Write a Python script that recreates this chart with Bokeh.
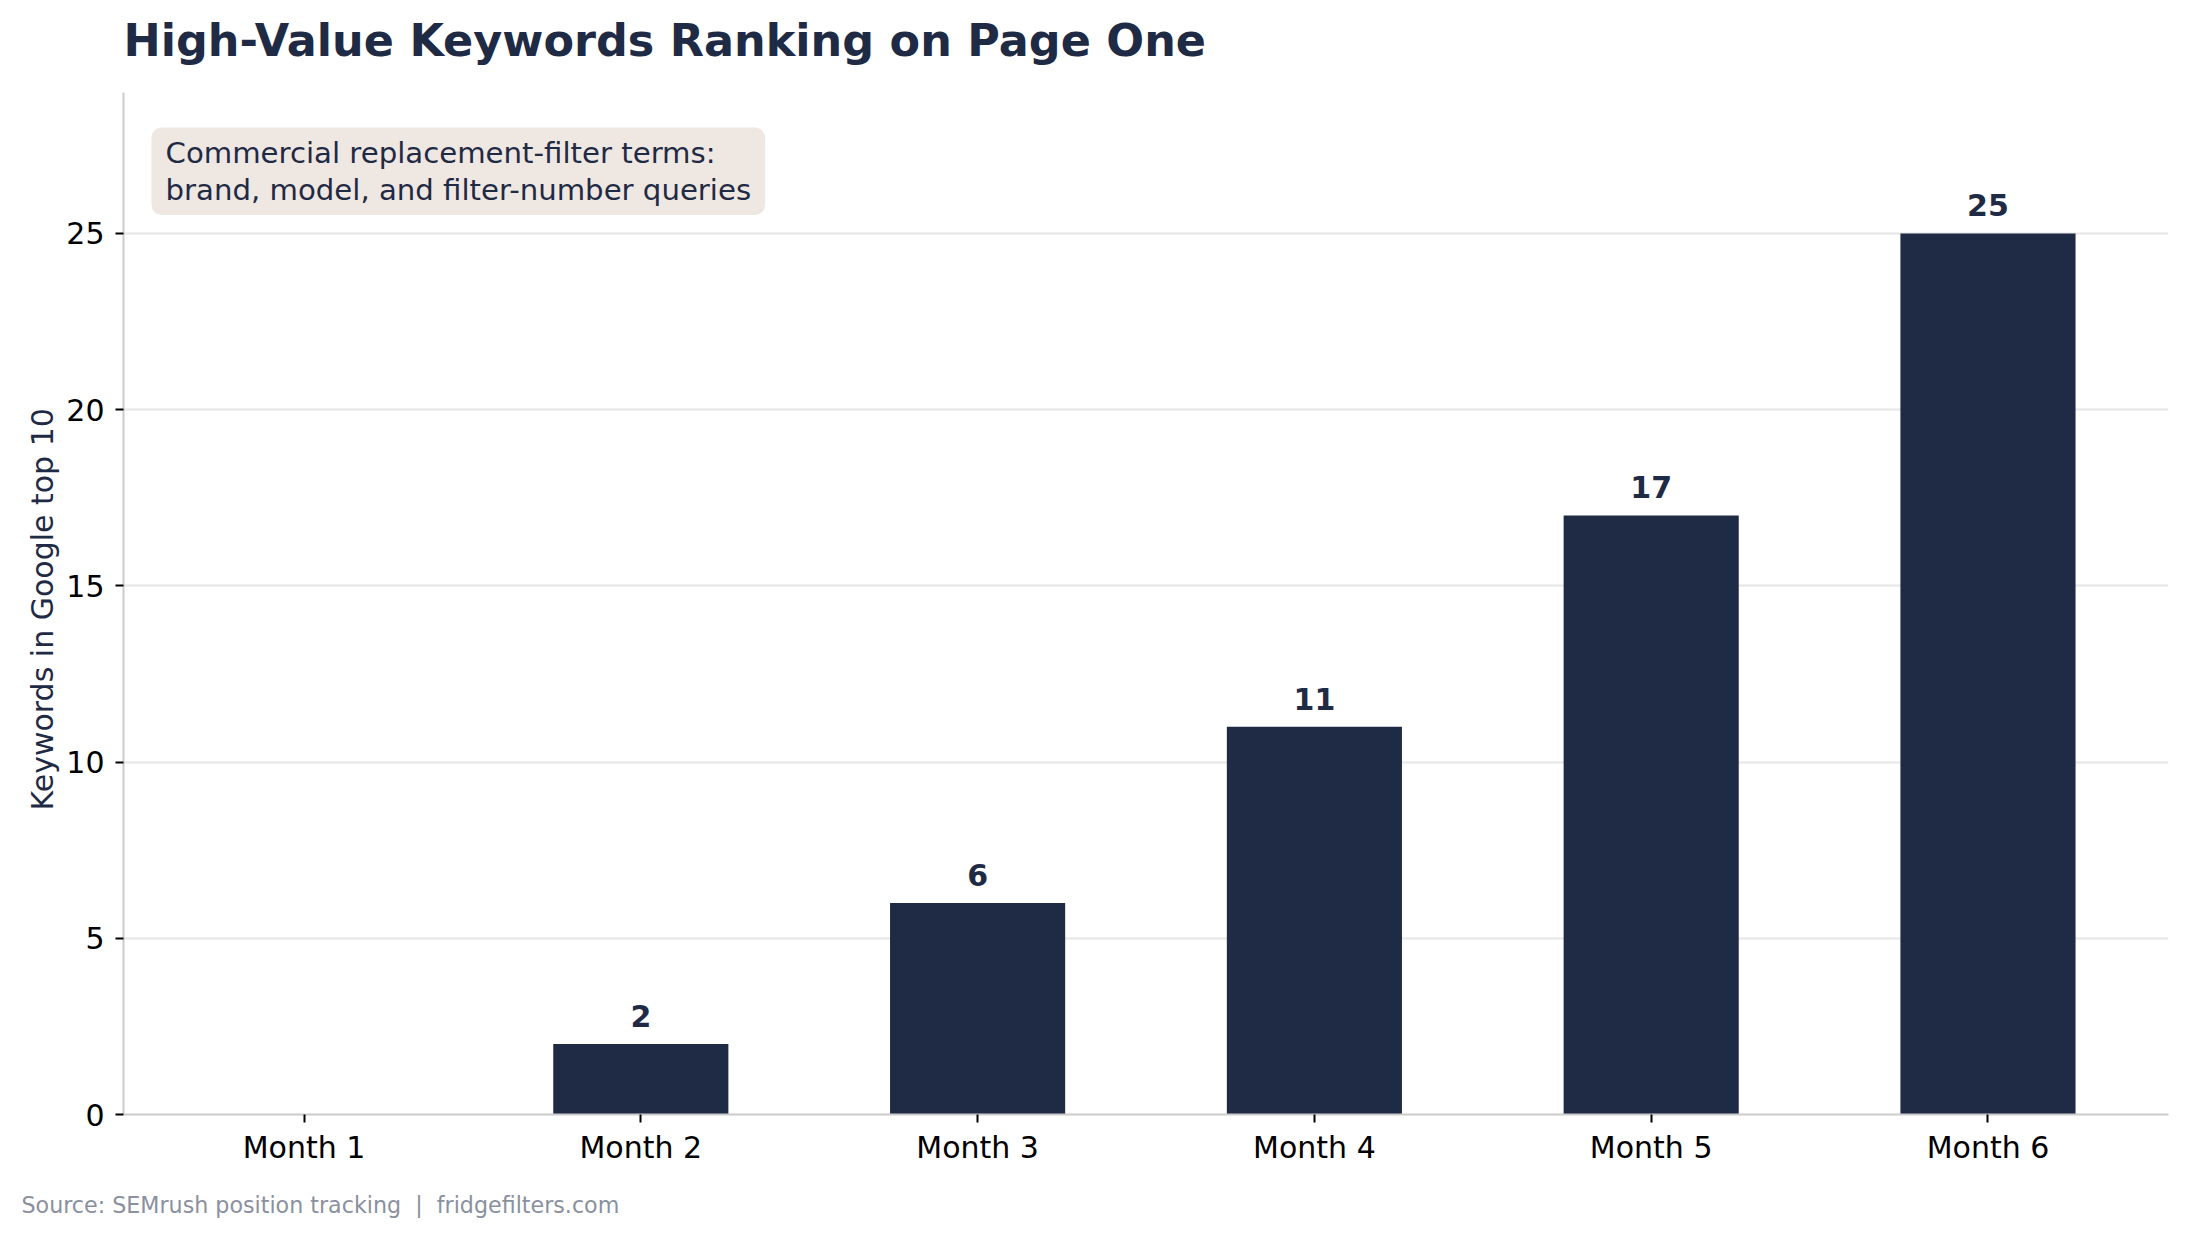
from bokeh.plotting import figure
from bokeh.models import Range1d, FixedTicker, Label, Title
from bokeh.embed import file_html
from bokeh.resources import INLINE
from bokeh.core.properties import value

# ---- data ----
months = ["Month 1", "Month 2", "Month 3", "Month 4", "Month 5", "Month 6"]
keywords = [0, 2, 6, 11, 17, 25]
y_ticks = [0, 5, 10, 15, 20, 25]
title_text = "High-Value Keywords Ranking on Page One"
y_label = "Keywords in Google top 10"
note_lines = ["Commercial replacement-filter terms:", "brand, model, and filter-number queries"]
source_text = "Source: SEMrush position tracking \u00a0|\u00a0 fridgefilters.com"

NAVY = "#1f2a44"
FONT = "DejaVu Sans"

xs = list(range(len(months)))
bar_w = 0.52
pad = 0.05 * (len(months) - 1 + bar_w)
y_top = max(keywords) * 1.16          # top of the visible axis

FW, FH = 2045, 1114                   # frame reaches the top of the canvas
AXIS_TOP_PX = 92                      # where the axis ends (pixels from the top)
y_end = y_top * FH / (FH - AXIS_TOP_PX)

p = figure(frame_width=FW, frame_height=FH,
           min_border_left=123, min_border_right=17, min_border_top=0, min_border_bottom=125,
           x_range=Range1d(-bar_w / 2 - pad, len(months) - 1 + bar_w / 2 + pad),
           y_range=Range1d(0, y_end),
           output_backend="svg", toolbar_location=None,
           background_fill_color="white", border_fill_color="white",
           outline_line_color=None)

p.vbar(x=xs, top=keywords, width=bar_w, bottom=0, fill_color=NAVY, line_color=None)

lx = [x for x, v in zip(xs, keywords) if v > 0]
ly = [v for v in keywords if v > 0]
lt = [str(v) for v in ly]
p.text(x=lx, y=ly, text=lt, y_offset=-28, text_align="center", text_baseline="alphabetic",
       text_font=value(FONT), text_font_style="bold", text_font_size="30px", text_color=NAVY)

# axes
p.xaxis.ticker = FixedTicker(ticks=xs)
p.xaxis.major_label_overrides = {i: m for i, m in enumerate(months)}
p.yaxis.ticker = FixedTicker(ticks=y_ticks)
p.yaxis.bounds = (0, y_top)
for ax in (p.xaxis, p.yaxis):
    ax.axis_line_color = "#cccccc"
    ax.axis_line_width = 2
    ax.major_tick_line_color = "black"
    ax.major_tick_line_width = 2
    ax.major_tick_in = 0
    ax.major_tick_out = 8
    ax.minor_tick_line_color = None
    ax.major_label_text_font = FONT
    ax.major_label_text_font_size = "30px"
    ax.major_label_text_color = "black"
p.xaxis.major_label_standoff = 7
p.yaxis.major_label_standoff = 11

# y-axis title, centred on the visible axis span
p.add_layout(Title(text=y_label, align="left", offset=304, standoff=8,
                   text_font=FONT, text_font_style="normal", text_font_size="30px",
                   text_color=NAVY), "left")

p.xgrid.visible = False
p.ygrid.grid_line_color = "#e6e6e6"
p.ygrid.grid_line_width = 2

# title (inside the frame's empty top strip)
p.add_layout(Label(x=0, y=FH - 40, x_units="screen", y_units="screen", text=title_text,
                   text_font=FONT, text_font_style="bold", text_font_size="44.5px",
                   text_color=NAVY, text_baseline="alphabetic", text_align="left"))

# source
p.add_layout(Title(text=source_text, align="left", offset=-102, standoff=44,
                   text_font=FONT, text_font_style="normal", text_font_size="22.2px",
                   text_color="#8a909e"), "below")

# note box
p.add_layout(Label(x=28, y=FH - 127, x_units="screen", y_units="screen",
                   text="\n".join(note_lines), text_font=FONT, text_font_size="29.2px",
                   text_color=NAVY, text_baseline="top", text_align="left",
                   text_line_height=1.1,
                   background_fill_color="#efe7e2", border_line_color=None,
                   padding=(14, 8), border_radius=10))

open("out.html", "w").write(file_html(p, INLINE))
